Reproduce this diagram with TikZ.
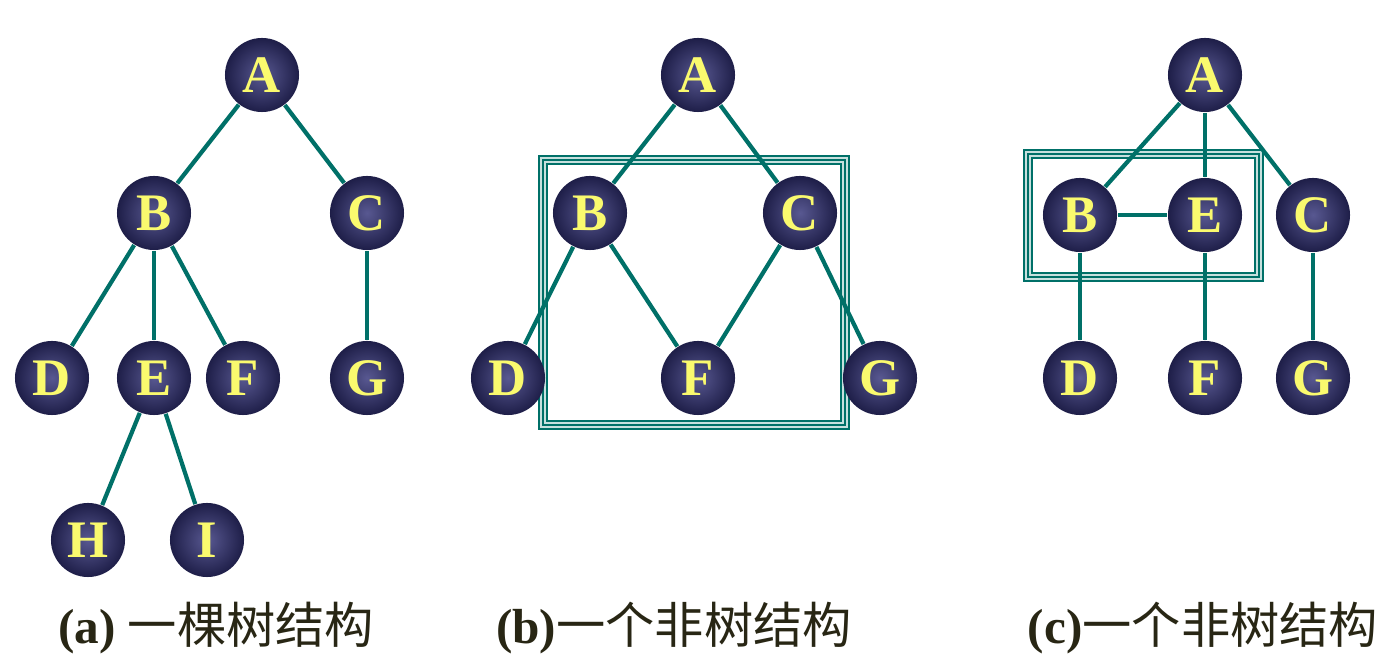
\documentclass[tikz,border=0pt]{standalone}
\usepackage{fontspec}
\setmainfont{Liberation Serif}
\newfontfamily\cjk{Noto Sans CJK SC}
\definecolor{edgeteal}{RGB}{0,112,104}
\definecolor{ballhi}{RGB}{88,88,145}
\definecolor{balldk}{RGB}{30,30,72}
\definecolor{letter}{RGB}{250,250,110}
\definecolor{captext}{RGB}{40,38,20}
\begin{document}
\begin{tikzpicture}[x=0.01cm,y=-0.01cm,
  ball/.style={circle,minimum size=0.74cm,inner sep=0pt,inner color=ballhi,outer color=balldk,
    text=letter,font=\fontsize{15}{15}\selectfont\bfseries},
  link/.style={edgeteal,line width=1.2pt},
  caption/.style={text=captext,font=\fontsize{14}{16}\selectfont\bfseries}]
\useasboundingbox (0,0) rectangle (1393,655);
% triple-line boxes
\foreach \w/\c in {2.9pt/edgeteal,1.9pt/edgeteal!22,0.5pt/edgeteal}{
  \draw[line width=\w,\c] (543,160) rectangle (845,425);
  \draw[line width=\w,\c] (1028,154) rectangle (1259,277);}
% (a) a tree
\node[ball] (aA) at (262,75) {A};
\node[ball] (aB) at (154,213) {B};
\node[ball] (aC) at (367,213) {C};
\node[ball] (aD) at (52,378) {D};
\node[ball] (aE) at (154,378) {E};
\node[ball] (aF) at (243,378) {F};
\node[ball] (aG) at (367,378) {G};
\node[ball] (aH) at (88,540) {H};
\node[ball] (aI) at (207,540) {I};
\foreach \u/\v in {aA/aB,aA/aC,aB/aD,aB/aE,aB/aF,aC/aG,aE/aH,aE/aI}
  \draw[link] (\u) -- (\v);
% (b) not a tree
\node[ball] (bA) at (698,75) {A};
\node[ball] (bB) at (590,213) {B};
\node[ball] (bC) at (800,213) {C};
\node[ball] (bD) at (508,378) {D};
\node[ball] (bF) at (698,378) {F};
\node[ball] (bG) at (880,378) {G};
\foreach \u/\v in {bA/bB,bA/bC,bB/bD,bB/bF,bC/bF,bC/bG}
  \draw[link] (\u) -- (\v);
% (c) not a tree
\node[ball] (cA) at (1205,75) {A};
\node[ball] (cB) at (1080,215) {B};
\node[ball] (cE) at (1205,215) {E};
\node[ball] (cC) at (1313,215) {C};
\node[ball] (cD) at (1080,378) {D};
\node[ball] (cF) at (1205,378) {F};
\node[ball] (cG) at (1313,378) {G};
\foreach \u/\v in {cA/cB,cA/cE,cA/cC,cB/cE,cB/cD,cE/cF,cC/cG}
  \draw[link] (\u) -- (\v);
% captions
\node[caption] (capa) at (216,628) {(a) {\cjk\mdseries 一棵树结构}};
\node[caption] (capb) at (674,628) {(b){\cjk\mdseries 一个非树结构}};
\node[caption] (capc) at (1203,628) {(c){\cjk\mdseries 一个非树结构}};
\end{tikzpicture}
\end{document}
